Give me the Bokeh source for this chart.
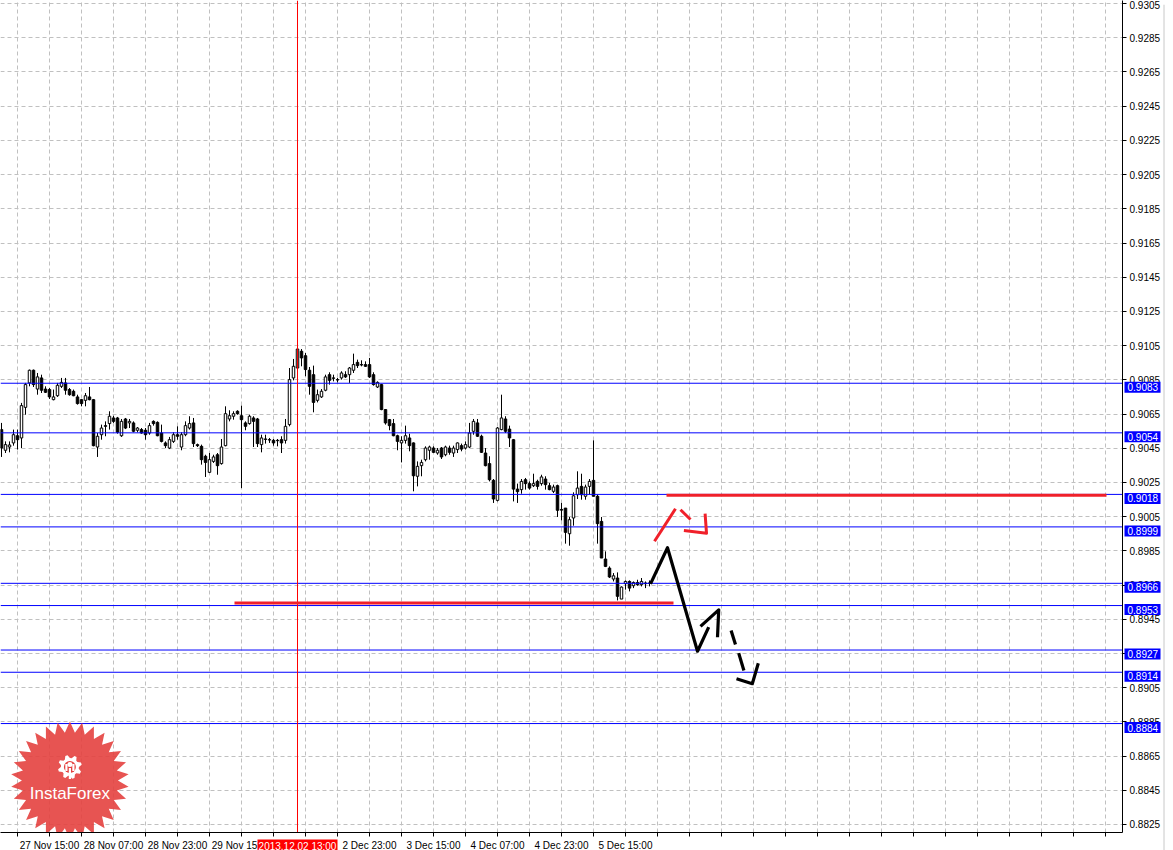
import numpy as np
from bokeh.plotting import figure
from bokeh.layouts import column
from bokeh.models import Range1d, FixedTicker, PrintfTickFormatter
from bokeh.embed import file_html
from bokeh.resources import INLINE
from bokeh.core.properties import value

# ---------------- data (H1 bars, index 0 = 27 Nov 15:00) ----------------
bar_index = list(range(-4, 159))

opens = [
    0.90559, 0.90438, 0.90457, 0.90481,
    0.90523, 0.90510, 0.90689, 0.90832, 0.90906, 0.90796, 0.90861, 0.90796, 0.90793, 0.90734,
    0.90757, 0.90812, 0.90832, 0.90793, 0.90783, 0.90750, 0.90734, 0.90730, 0.90750, 0.90734,
    0.90457, 0.90529, 0.90582, 0.90594, 0.90627, 0.90627, 0.90523, 0.90621, 0.90598, 0.90598,
    0.90555, 0.90559, 0.90555, 0.90539, 0.90607, 0.90601, 0.90539, 0.90481, 0.90451, 0.90490,
    0.90529, 0.90457, 0.90529, 0.90568, 0.90598, 0.90471, 0.90461, 0.90403, 0.90309, 0.90373,
    0.90412, 0.90360, 0.90465, 0.90621, 0.90637, 0.90666, 0.90640, 0.90598, 0.90594, 0.90627,
    0.90621, 0.90471, 0.90504, 0.90500, 0.90496, 0.90496, 0.90500, 0.90496, 0.90588, 0.90861,
    0.90919, 0.91017, 0.90991, 0.90906, 0.90880, 0.90730, 0.90750, 0.90789, 0.90880, 0.90861,
    0.90851, 0.90861, 0.90880, 0.90880, 0.90906, 0.90952, 0.90939, 0.90939, 0.90939, 0.90880,
    0.90808, 0.90822, 0.90676, 0.90617, 0.90594, 0.90523, 0.90481, 0.90496, 0.90510, 0.90481,
    0.90286, 0.90348, 0.90383, 0.90438, 0.90451, 0.90422, 0.90451, 0.90412, 0.90451, 0.90422,
    0.90442, 0.90465, 0.90451, 0.90457, 0.90549, 0.90598, 0.90520, 0.90422, 0.90360, 0.90262,
    0.90145, 0.90559, 0.90621, 0.90562, 0.90500, 0.90211, 0.90208, 0.90266, 0.90243, 0.90231,
    0.90256, 0.90243, 0.90270, 0.90231, 0.90198, 0.90231, 0.90092, 0.90100, 0.89950, 0.90042,
    0.90178, 0.90227, 0.90169, 0.90227, 0.90262, 0.90169, 0.90022, 0.89802, 0.89749, 0.89685,
    0.89691, 0.89568, 0.89658, 0.89671, 0.89646, 0.89665, 0.89652, 0.89662, 0.89662,
]
highs = [
    0.90598, 0.90490, 0.90490, 0.90559,
    0.90559, 0.90715, 0.90832, 0.90910, 0.90910, 0.90890, 0.90880, 0.90812, 0.90802, 0.90793,
    0.90832, 0.90861, 0.90861, 0.90802, 0.90793, 0.90763, 0.90738, 0.90773, 0.90808, 0.90738,
    0.90539, 0.90588, 0.90607, 0.90666, 0.90640, 0.90633, 0.90621, 0.90627, 0.90621, 0.90607,
    0.90574, 0.90568, 0.90568, 0.90598, 0.90613, 0.90607, 0.90588, 0.90490, 0.90516, 0.90543,
    0.90578, 0.90543, 0.90607, 0.90637, 0.90627, 0.90477, 0.90471, 0.90412, 0.90422, 0.90412,
    0.90422, 0.90504, 0.90695, 0.90672, 0.90666, 0.90672, 0.90699, 0.90607, 0.90646, 0.90637,
    0.90627, 0.90529, 0.90529, 0.90510, 0.90504, 0.90504, 0.90520, 0.90621, 0.90919, 0.90972,
    0.91046, 0.91030, 0.91007, 0.90925, 0.90933, 0.90793, 0.90796, 0.90880, 0.90894, 0.90880,
    0.90861, 0.90900, 0.90900, 0.90925, 0.91003, 0.90968, 0.90964, 0.90958, 0.90978, 0.90894,
    0.90841, 0.90826, 0.90679, 0.90621, 0.90621, 0.90529, 0.90520, 0.90582, 0.90535, 0.90484,
    0.90373, 0.90383, 0.90461, 0.90465, 0.90461, 0.90451, 0.90457, 0.90465, 0.90465, 0.90465,
    0.90484, 0.90477, 0.90490, 0.90598, 0.90621, 0.90621, 0.90529, 0.90451, 0.90403, 0.90270,
    0.90574, 0.90763, 0.90637, 0.90582, 0.90504, 0.90243, 0.90270, 0.90276, 0.90256, 0.90301,
    0.90266, 0.90295, 0.90286, 0.90247, 0.90237, 0.90237, 0.90130, 0.90100, 0.90048, 0.90192,
    0.90315, 0.90301, 0.90237, 0.90270, 0.90496, 0.90178, 0.90048, 0.89847, 0.89759, 0.89720,
    0.89724, 0.89642, 0.89677, 0.89677, 0.89671, 0.89681, 0.89691, 0.89671, 0.89677,
]
lows = [
    0.90399, 0.90422, 0.90426, 0.90465,
    0.90442, 0.90451, 0.90646, 0.90812, 0.90808, 0.90763, 0.90773, 0.90773, 0.90738, 0.90730,
    0.90750, 0.90802, 0.90763, 0.90757, 0.90754, 0.90705, 0.90695, 0.90695, 0.90730, 0.90461,
    0.90399, 0.90500, 0.90520, 0.90559, 0.90598, 0.90535, 0.90516, 0.90562, 0.90568, 0.90543,
    0.90543, 0.90535, 0.90500, 0.90529, 0.90582, 0.90520, 0.90484, 0.90451, 0.90445, 0.90481,
    0.90500, 0.90438, 0.90520, 0.90559, 0.90457, 0.90457, 0.90354, 0.90282, 0.90305, 0.90364,
    0.90295, 0.90354, 0.90461, 0.90607, 0.90617, 0.90646, 0.90217, 0.90555, 0.90588, 0.90457,
    0.90457, 0.90426, 0.90477, 0.90481, 0.90465, 0.90461, 0.90422, 0.90477, 0.90578, 0.90847,
    0.90851, 0.90929, 0.90871, 0.90763, 0.90660, 0.90718, 0.90744, 0.90783, 0.90822, 0.90841,
    0.90835, 0.90851, 0.90861, 0.90832, 0.90890, 0.90919, 0.90929, 0.90925, 0.90861, 0.90816,
    0.90802, 0.90672, 0.90588, 0.90555, 0.90520, 0.90438, 0.90367, 0.90477, 0.90432, 0.90198,
    0.90227, 0.90286, 0.90373, 0.90383, 0.90422, 0.90412, 0.90387, 0.90403, 0.90412, 0.90399,
    0.90422, 0.90432, 0.90442, 0.90451, 0.90529, 0.90516, 0.90422, 0.90344, 0.90256, 0.90130,
    0.90139, 0.90555, 0.90539, 0.90457, 0.90139, 0.90130, 0.90184, 0.90208, 0.90208, 0.90223,
    0.90208, 0.90231, 0.90208, 0.90204, 0.90188, 0.90048, 0.90028, 0.89892, 0.89880, 0.89997,
    0.90153, 0.90149, 0.90149, 0.90178, 0.90169, 0.89892, 0.89808, 0.89755, 0.89691, 0.89671,
    0.89560, 0.89568, 0.89623, 0.89613, 0.89632, 0.89646, 0.89642, 0.89632, 0.89642,
]
closes = [
    0.90451, 0.90471, 0.90469, 0.90529,
    0.90500, 0.90699, 0.90822, 0.90906, 0.90822, 0.90867, 0.90789, 0.90777, 0.90750, 0.90750,
    0.90818, 0.90835, 0.90789, 0.90763, 0.90757, 0.90711, 0.90711, 0.90757, 0.90734, 0.90465,
    0.90520, 0.90568, 0.90578, 0.90637, 0.90607, 0.90543, 0.90607, 0.90568, 0.90607, 0.90549,
    0.90568, 0.90539, 0.90529, 0.90582, 0.90594, 0.90523, 0.90490, 0.90465, 0.90500, 0.90529,
    0.90520, 0.90529, 0.90582, 0.90594, 0.90477, 0.90465, 0.90383, 0.90367, 0.90383, 0.90399,
    0.90348, 0.90457, 0.90652, 0.90640, 0.90652, 0.90652, 0.90617, 0.90578, 0.90637, 0.90607,
    0.90477, 0.90510, 0.90502, 0.90498, 0.90481, 0.90494, 0.90481, 0.90578, 0.90851, 0.90929,
    0.91030, 0.90978, 0.90910, 0.90812, 0.90718, 0.90763, 0.90783, 0.90867, 0.90847, 0.90859,
    0.90849, 0.90890, 0.90867, 0.90919, 0.90939, 0.90933, 0.90937, 0.90929, 0.90867, 0.90822,
    0.90835, 0.90676, 0.90598, 0.90582, 0.90523, 0.90490, 0.90496, 0.90523, 0.90465, 0.90289,
    0.90344, 0.90367, 0.90451, 0.90457, 0.90426, 0.90438, 0.90399, 0.90457, 0.90426, 0.90451,
    0.90481, 0.90445, 0.90471, 0.90539, 0.90607, 0.90520, 0.90426, 0.90348, 0.90266, 0.90153,
    0.90568, 0.90627, 0.90549, 0.90510, 0.90211, 0.90196, 0.90256, 0.90243, 0.90217, 0.90243,
    0.90227, 0.90282, 0.90237, 0.90208, 0.90223, 0.90087, 0.90088, 0.89958, 0.90032, 0.90172,
    0.90217, 0.90178, 0.90223, 0.90256, 0.90169, 0.90009, 0.89808, 0.89759, 0.89697, 0.89704,
    0.89584, 0.89638, 0.89671, 0.89632, 0.89665, 0.89652, 0.89671, 0.89658, 0.89660,
]

# horizontal levels (blue) with their price boxes on the axis
level_prices = [0.9083, 0.9054, 0.9018, 0.8999, 0.8966, 0.8953, 0.8927, 0.8914, 0.8884]

# axis ticks
price_ticks = [0.8825, 0.8845, 0.8865, 0.8885, 0.8905, 0.8925, 0.8945, 0.8965, 0.8985,
               0.9005, 0.9025, 0.9045, 0.9065, 0.9085, 0.9105, 0.9125, 0.9145, 0.9165,
               0.9185, 0.9205, 0.9225, 0.9245, 0.9265, 0.9285, 0.9305]
time_tick_bars = [0, 16, 32, 48, 64, 80, 96, 112, 128, 144]
time_tick_labels = ["27 Nov 15:00", "28 Nov 07:00", "28 Nov 23:00", "29 Nov 15:00",
                    "2 Dec 07:00", "2 Dec 23:00", "3 Dec 15:00", "4 Dec 07:00",
                    "4 Dec 23:00", "5 Dec 15:00"]
cursor_bar = 70
cursor_label = "2013.12.02 13:00"

# analyst drawings (bar, price)
red_support_x = [54.25, 164.0]
red_support_y = [0.89545, 0.89545]
red_resist_x = [162.25, 272.25]
red_resist_y = [0.90175, 0.90175]
red_arrow_paths_x = [[159.25, 164.5], [165.75, 168.25], [166.6, 172.25, 171.9]]
red_arrow_paths_y = [[0.89906, 0.90096], [0.90090, 0.90033], [0.89969, 0.89953, 0.90067]]
black_solid_x = [[158.25, 162.5, 170.0, 172.8], [170.75, 175.3, 175.0]]
black_solid_y = [[0.89657, 0.89868, 0.89263, 0.89404], [0.89408, 0.89505, 0.89345]]
black_dash_x = [[178.4, 179.5], [180.3, 181.6], [179.75, 183.7, 185.2]]
black_dash_y = [[0.89384, 0.89302], [0.89252, 0.89150], [0.89102, 0.89073, 0.89193]]

# ---------------- layout ----------------
FONT = "Liberation Sans"
X_START, X_END = -4.25, 276.25
Y_START, Y_END = 0.88203, 0.93068
FW, FH = 1122, 832
RIGHT_W, BOTTOM_H = 41, 17
W_TOT, H_TOT = FW + RIGHT_W, FH + BOTTOM_H
PX_X = (X_END - X_START) / FW      # bars per pixel
PX_Y = (Y_END - Y_START) / FH      # price per pixel
BLUE = "#0000ff"

p = figure(frame_width=FW, frame_height=FH,
           x_range=Range1d(X_START, X_END), y_range=Range1d(Y_START, Y_END),
           y_axis_location="right", output_backend="svg", toolbar_location=None,
           min_border_left=0, min_border_top=0,
           min_border_right=RIGHT_W, min_border_bottom=BOTTOM_H,
           background_fill_color="white", border_fill_color="white",
           outline_line_color=None)

# y axis (right)
yax = p.yaxis[0]
yax.ticker = FixedTicker(ticks=price_ticks)
yax.formatter = PrintfTickFormatter(format="%.4f")
yax.major_tick_out = 4
yax.major_tick_in = 0
yax.minor_tick_out = 0
yax.minor_tick_in = 0
yax.major_label_standoff = 3
yax.major_label_text_font = FONT
yax.major_label_text_font_size = "10px"
yax.major_label_text_color = "black"
yax.axis_line_color = "black"
yax.major_tick_line_color = "black"

# x axis (bottom): labels start right of their tick
grid_bars = list(range(0, 277, 8))
label_centres = [b + 8 for b in time_tick_bars]
xax = p.xaxis[0]
xax.ticker = FixedTicker(ticks=label_centres, minor_ticks=grid_bars)
xax.major_label_overrides = {c: t for c, t in zip(label_centres, time_tick_labels)}
xax.major_tick_out = 0
xax.major_tick_in = 0
xax.minor_tick_out = 4
xax.minor_tick_in = 0
xax.minor_tick_line_color = "black"
xax.major_label_standoff = 3
xax.major_label_text_font = FONT
xax.major_label_text_font_size = "10px"
xax.major_label_text_color = "black"
xax.axis_line_color = "black"

# grids
p.xgrid.ticker = FixedTicker(ticks=grid_bars)
p.ygrid.ticker = FixedTicker(ticks=price_ticks)
for g in (p.xgrid[0], p.ygrid[0]):
    g.grid_line_color = "#c0c0c0"
    g.grid_line_dash = "4 3"
    g.grid_line_width = 1

# candles
bull = [k for k in range(len(bar_index)) if closes[k] >= opens[k]]
bear = [k for k in range(len(bar_index)) if closes[k] < opens[k]]
p.segment(x0=bar_index, y0=lows, x1=bar_index, y1=highs, line_color="black", line_width=1)
p.vbar(x=[bar_index[k] for k in bull], width=0.62,
       top=[closes[k] for k in bull], bottom=[opens[k] for k in bull],
       fill_color="white", line_color="black", line_width=1)
p.vbar(x=[bar_index[k] for k in bear], width=0.62,
       top=[opens[k] for k in bear], bottom=[closes[k] for k in bear],
       fill_color="black", line_color="black", line_width=1)

# level lines and cursor line
n_lv = len(level_prices)
p.segment(x0=[X_START] * n_lv, x1=[X_END] * n_lv, y0=level_prices, y1=level_prices,
          line_color=BLUE, line_width=1)
p.segment(x0=[cursor_bar], x1=[cursor_bar], y0=[Y_START], y1=[Y_END],
          line_color="#ff0000", line_width=1)

# drawings
RED = "#f0202a"
p.line(red_support_x, red_support_y, line_color=RED, line_width=3)
p.line(red_resist_x, red_resist_y, line_color=RED, line_width=3)
p.multi_line(red_arrow_paths_x, red_arrow_paths_y, line_color=RED, line_width=3,
             line_join="round")
p.multi_line(black_solid_x, black_solid_y, line_color="black", line_width=3.2, line_join="round")
p.multi_line(black_dash_x, black_dash_y, line_color="black", line_width=3.2, line_join="round")

# InstaForex watermark
cx, cy = 13.1, 0.88507
n_sp = 30
ang = np.pi / 2 + np.arange(2 * n_sp) * np.pi / n_sp
rad = np.where(np.arange(2 * n_sp) % 2 == 0, 59.0, 48.0)
p.patch(cx + rad * np.cos(ang) * PX_X, cy + rad * np.sin(ang) * PX_Y,
        fill_color="#e4413f", fill_alpha=0.9, line_color=None)
gx, gy = cx, cy + 13.5 * PX_Y
g_ang = np.linspace(0, 2 * np.pi, 32, endpoint=False) + np.pi / 16
g_rad = np.array([12.0, 12.0, 9.0, 9.0] * 8)
p.patch(gx + g_rad * np.cos(g_ang) * PX_X, gy + g_rad * np.sin(g_ang) * PX_Y,
        fill_color="white", line_color=None)
p.scatter([gx], [gy], size=12, fill_color="#e4413f", line_color=None)
p.scatter([gx], [gy + 2.5 * PX_Y], size=5, fill_color="white", line_color=None)
p.multi_line([[gx, gx], [gx - 3.5 * PX_X, gx - 3.5 * PX_X], [gx + 3.5 * PX_X, gx + 3.5 * PX_X]],
             [[gy - 1 * PX_Y, gy - 12 * PX_Y], [gy + 3 * PX_Y, gy - 4 * PX_Y],
              [gy + 3 * PX_Y, gy - 4 * PX_Y]],
             line_color="white", line_width=2.2)
p.text(x=[cx], y=[cy - 13 * PX_Y], text=["InstaForex"], text_color="white",
       text_font=value(FONT), text_font_size=value("17px"),
       text_align="center", text_baseline="middle")

# ---------------- transparent overlay for the boxes drawn on the axes ----------------
OV_W = W_TOT + 3
ov = figure(width=OV_W, height=H_TOT,
            x_range=Range1d(X_START, X_START + OV_W * PX_X),
            y_range=Range1d(Y_END - H_TOT * PX_Y, Y_END),
            x_axis_location=None, y_axis_location=None,
            output_backend="svg", toolbar_location=None, min_border=0,
            outline_line_color=None, background_fill_color=None, border_fill_color=None,
            margin=(-H_TOT, 0, 0, 0))
ov.grid.visible = False
for fig in (p, ov):
    if "frame_align" in fig.properties():
        fig.frame_align = False

# price boxes on the right axis
ov.quad(left=[X_END + 2 * PX_X] * n_lv, right=[X_END + 38 * PX_X] * n_lv,
        bottom=[lv - 5.5 * PX_Y for lv in level_prices],
        top=[lv + 5.5 * PX_Y for lv in level_prices],
        fill_color=BLUE, line_color=None)
ov.text(x=[X_END + 5 * PX_X] * n_lv, y=level_prices,
        text=[f"{lv:.4f}" for lv in level_prices], text_color="white",
        text_font=value(FONT), text_font_size=value("10px"),
        text_align="left", text_baseline="middle")

# cursor time box on the time axis
ty = Y_START - 10 * PX_Y
ov.quad(left=[cursor_bar - 40 * PX_X], right=[cursor_bar + 40 * PX_X],
        bottom=[ty - 7 * PX_Y], top=[ty + 7 * PX_Y], fill_color="#ff0000", line_color=None)
ov.text(x=[cursor_bar], y=[ty], text=[cursor_label], text_color="white",
        text_font=value(FONT), text_font_size=value("10px"),
        text_align="center", text_baseline="middle")

# window edge line right of the price scale
edge_x = X_START + (W_TOT + 0.5) * PX_X
ov.segment(x0=[edge_x], x1=[edge_x], y0=[Y_END - H_TOT * PX_Y], y1=[Y_END],
           line_color="#c8c8c8", line_width=1)

layout = column(p, ov, spacing=0)
open("out.html", "w").write(file_html(layout, INLINE))
